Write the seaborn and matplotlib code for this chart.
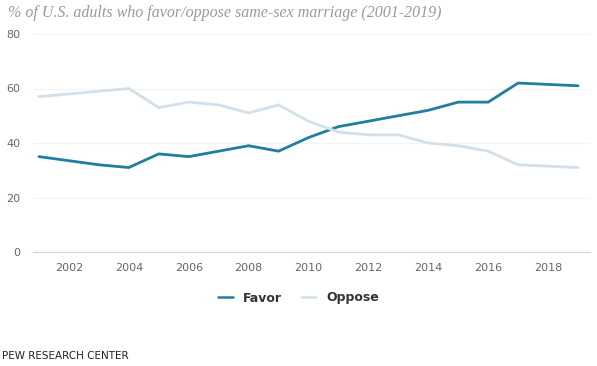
import numpy as np
import pandas as pd
import matplotlib
matplotlib.use("Agg")
import matplotlib.pyplot as plt
import seaborn as sns

# --- Daten ---
years = [2001, 2003, 2004, 2005, 2006, 2007, 2008, 2009, 2010,
         2011, 2012, 2013, 2014, 2015, 2016, 2017, 2019]
favor = [35, 32, 31, 36, 35, 37, 39, 37, 42, 46, 48, 50, 52, 55, 55, 62, 61]
oppose = [57, 59, 60, 53, 55, 54, 51, 54, 48, 44, 43, 43, 40, 39, 37, 32, 31]
series_names = ["Favor", "Oppose"]
series_colors = ["#1f7f9c", "#d3e0ea"]
x_ticks = [2002, 2004, 2006, 2008, 2010, 2012, 2014, 2016, 2018]
y_ticks = [0, 20, 40, 60, 80]

df = pd.DataFrame({"year": years, "Favor": favor, "Oppose": oppose})
long_df = df.melt(id_vars="year", var_name="series", value_name="pct")

sns.set_style("white")
plt.rcParams["font.family"] = ["DejaVu Sans"]

fig = plt.figure(figsize=(5.97, 3.66), dpi=100)
ax = fig.add_axes([33 / 597, 1 - 252 / 366, (590 - 33) / 597, (252 - 34) / 366])

sns.lineplot(data=long_df, x="year", y="pct", hue="series",
             hue_order=series_names, palette=series_colors,
             linewidth=2, ax=ax, legend=False)

ax.set_xlim(2000.8, 2019.4)
ax.set_ylim(0, 80)
ax.set_xticks(x_ticks)
ax.set_yticks(y_ticks)
ax.set_xlabel("")
ax.set_ylabel("")
ax.grid(axis="y", color="#f3f3f3", linewidth=0.8)
ax.set_axisbelow(True)
for side in ["top", "right", "left"]:
    ax.spines[side].set_visible(False)
ax.spines["bottom"].set_color("#cfd8dc")
ax.spines["bottom"].set_linewidth(0.8)
ax.tick_params(axis="both", length=0, labelsize=8, colors="#666666")
ax.tick_params(axis="x", pad=8)
ax.tick_params(axis="y", pad=9)

# Legende
handles = [plt.Line2D([0], [0], color=c, linewidth=1.8) for c in series_colors]
fig.legend(handles, series_names, loc="center", bbox_to_anchor=(0.5, 1 - 298 / 366),
           ncol=2, frameon=False, handlelength=1.2, columnspacing=1.5,
           prop={"size": 9, "weight": "bold"}, labelcolor="#333333")

fig.text(8 / 597, 1 - 13 / 366, "% of U.S. adults who favor/oppose same-sex marriage (2001-2019)",
         fontsize=11.5, style="italic", family="Liberation Serif", color="#9a9a9a",
         va="center", ha="left")
fig.text(2 / 597, 1 - 356 / 366, "PEW RESEARCH CENTER", fontsize=7.5, color="#222222",
         va="center", ha="left")

fig.savefig("out.png", dpi=100)
